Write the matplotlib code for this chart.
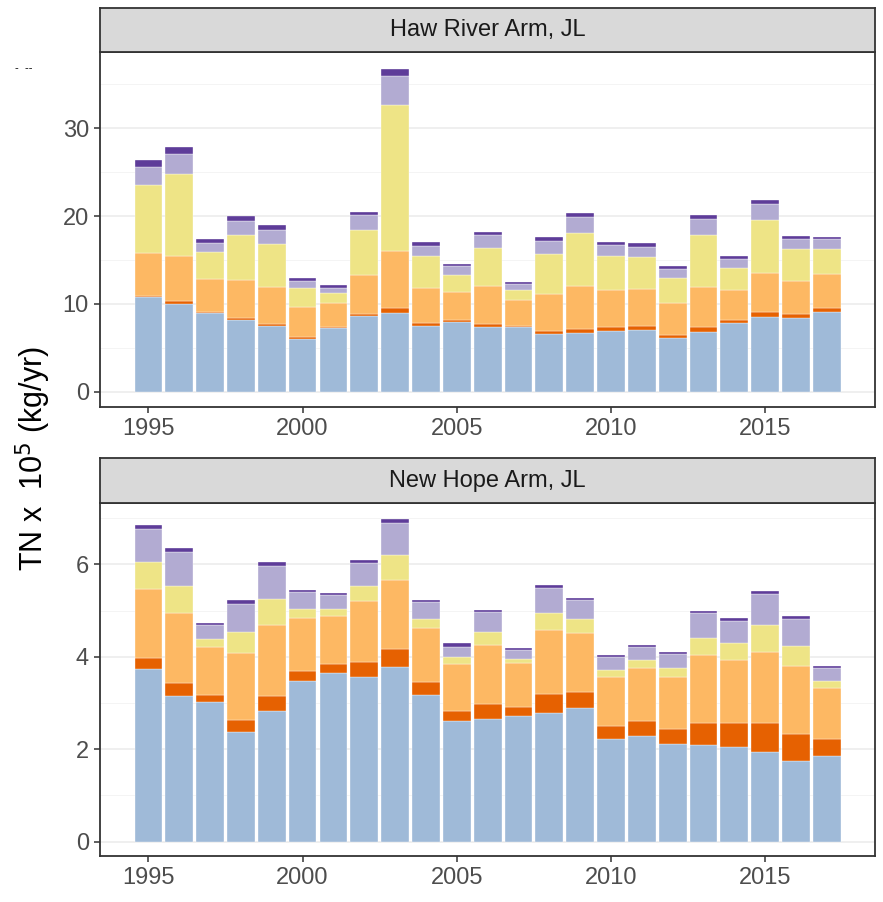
import numpy as np
import matplotlib
matplotlib.use("Agg")
import matplotlib.pyplot as plt
from matplotlib.ticker import MultipleLocator

plt.rcParams['font.family'] = ['Liberation Sans', 'DejaVu Sans']

years = list(range(1995, 2018))
layers = ["blue", "dark orange", "light orange", "yellow", "light purple", "dark purple"]
colors = ["#9FBAD8", "#E66101", "#FDB863", "#EEE486", "#B2ABD2", "#5E3C99"]

# Haw River Arm, JL  (TN x 1e5 kg/yr), one list per layer, bottom to top
haw_blue = [10.76, 10.04, 8.94, 8.22, 7.46, 5.98, 7.27, 8.67, 8.94, 7.54, 7.99, 7.39,
            7.35, 6.55, 6.70, 6.93, 7.08, 6.14, 6.78, 7.84, 8.52, 8.41, 9.13]
haw_dorange = [0.14, 0.30, 0.15, 0.23, 0.23, 0.23, 0.08, 0.23, 0.64, 0.26, 0.15, 0.34,
               0.19, 0.38, 0.50, 0.42, 0.46, 0.30, 0.57, 0.34, 0.57, 0.45, 0.45]
haw_lorange = [4.93, 5.08, 3.79, 4.32, 4.20, 3.41, 2.76, 4.40, 6.44, 4.02, 3.22, 4.32,
               2.91, 4.17, 4.85, 4.24, 4.20, 3.71, 4.62, 3.37, 4.47, 3.79, 3.79]
haw_yellow = [7.69, 9.35, 3.03, 5.11, 4.97, 2.16, 1.18, 5.15, 16.59, 3.60, 1.90, 4.35,
              1.18, 4.58, 6.06, 3.83, 3.56, 2.80, 5.91, 2.54, 5.95, 3.56, 2.92]
haw_lpurple = [2.12, 2.35, 1.06, 1.59, 1.59, 0.87, 0.57, 1.63, 3.37, 1.21, 1.06, 1.40,
               0.60, 1.48, 1.74, 1.32, 1.22, 1.03, 1.78, 1.06, 1.85, 1.21, 1.06]
haw_dpurple = [0.72, 0.76, 0.42, 0.57, 0.53, 0.34, 0.30, 0.41, 0.76, 0.38, 0.19, 0.42,
               0.23, 0.45, 0.45, 0.34, 0.37, 0.30, 0.42, 0.30, 0.46, 0.34, 0.26]

# New Hope Arm, JL
nh_blue = [3.73, 3.15, 3.02, 2.37, 2.83, 3.48, 3.64, 3.57, 3.78, 3.18, 2.61, 2.65,
           2.72, 2.79, 2.90, 2.23, 2.29, 2.12, 2.09, 2.04, 1.95, 1.75, 1.86]
nh_dorange = [0.25, 0.28, 0.16, 0.26, 0.32, 0.21, 0.20, 0.31, 0.38, 0.27, 0.21, 0.32,
              0.20, 0.41, 0.35, 0.27, 0.32, 0.31, 0.47, 0.52, 0.61, 0.57, 0.36]
nh_lorange = [1.49, 1.52, 1.03, 1.45, 1.53, 1.15, 1.05, 1.32, 1.51, 1.17, 1.03, 1.28,
              0.94, 1.39, 1.27, 1.06, 1.15, 1.13, 1.47, 1.37, 1.54, 1.49, 1.11]
nh_yellow = [0.58, 0.58, 0.17, 0.45, 0.57, 0.20, 0.15, 0.33, 0.54, 0.20, 0.15, 0.28,
             0.09, 0.37, 0.29, 0.15, 0.17, 0.19, 0.38, 0.36, 0.58, 0.43, 0.14]
nh_lpurple = [0.71, 0.73, 0.30, 0.62, 0.72, 0.37, 0.30, 0.50, 0.69, 0.36, 0.22, 0.44,
              0.20, 0.52, 0.41, 0.29, 0.28, 0.31, 0.53, 0.49, 0.67, 0.58, 0.29]
nh_dpurple = [0.09, 0.10, 0.05, 0.08, 0.09, 0.04, 0.04, 0.06, 0.08, 0.05, 0.08, 0.05,
              0.04, 0.07, 0.06, 0.05, 0.05, 0.05, 0.05, 0.07, 0.08, 0.07, 0.04]

panels = [
    ("Haw River Arm, JL", [haw_blue, haw_dorange, haw_lorange, haw_yellow, haw_lpurple, haw_dpurple],
     (-1.74, 38.69), 10, 5),
    ("New Hope Arm, JL", [nh_blue, nh_dorange, nh_lorange, nh_yellow, nh_lpurple, nh_dpurple],
     (-0.31, 7.33), 2, 1),
]

W, H = 883, 902
fig = plt.figure(figsize=(W / 100, H / 100), dpi=100)

left, right = 100, 875
boxes = [(7.5, 52, 407), (458, 503, 856)]  # strip top, panel top, panel bottom (px)

for (title, series, ylim, major, minor), (st, pt, pb) in zip(panels, boxes):
    ax = fig.add_axes([left / W, 1 - pb / H, (right - left) / W, (pb - pt) / H])
    sx = fig.add_axes([left / W, 1 - pt / H, (right - left) / W, (pt - st) / H])

    bottom = np.zeros(len(years))
    for vals, c in zip(series, colors):
        ax.bar(years, vals, bottom=bottom, width=0.9, color=c, edgecolor='white',
               linewidth=0.25, zorder=2)
        bottom += np.array(vals)

    ax.set_xlim(1993.43, 2018.56)
    ax.set_ylim(*ylim)
    ax.xaxis.set_major_locator(MultipleLocator(5))
    ax.yaxis.set_major_locator(MultipleLocator(major))
    ax.yaxis.set_minor_locator(MultipleLocator(minor))
    ax.grid(axis='y', which='major', color='#EBEBEB', linewidth=1.1, zorder=0)
    ax.grid(axis='y', which='minor', color='#F2F2F2', linewidth=0.6, zorder=0)
    ax.set_axisbelow(True)
    ax.tick_params(which='minor', left=False)
    ax.tick_params(which='major', colors='#333333', labelcolor='#4D4D4D',
                   labelsize=17, length=4, width=1.1, pad=4)
    for s in ax.spines.values():
        s.set_color('#333333')
        s.set_linewidth(1.3)

    sx.set_facecolor('#D9D9D9')
    sx.set_xticks([])
    sx.set_yticks([])
    for s in sx.spines.values():
        s.set_color('#333333')
        s.set_linewidth(1.3)
    sx.text(0.5, 0.5, title, ha='center', va='center', fontsize=17, color='#1A1A1A',
            transform=sx.transAxes)

fig.text(33 / W, 1 - 458 / H, r"TN x  10$^5$ (kg/yr)", rotation=90, ha='center',
         va='center', fontsize=22, color='black')
fig.text(24 / W, 1 - 68 / H, "-  --", ha='center', va='center', fontsize=8, color='black')

fig.savefig("out.png", dpi=100)
